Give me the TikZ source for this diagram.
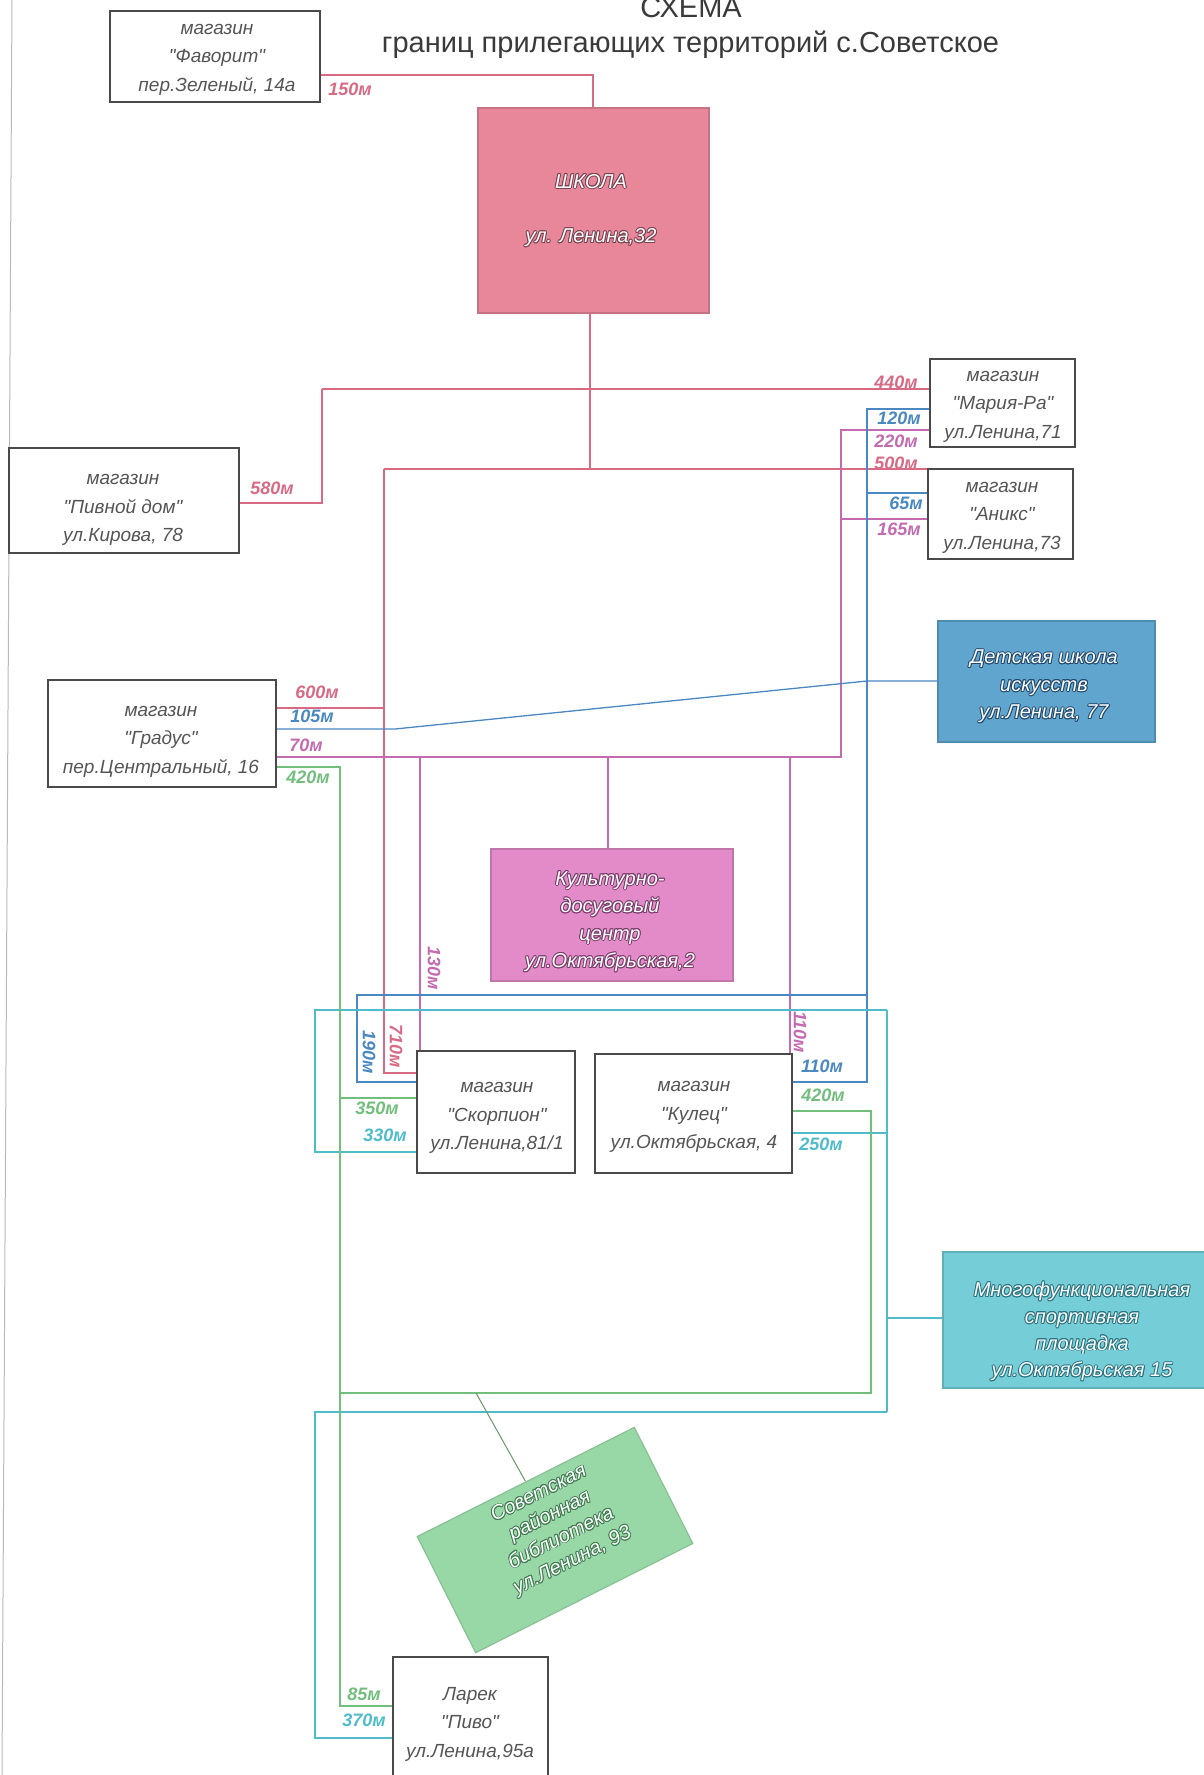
\documentclass[tikz,border=0pt]{standalone}
\usepackage{fontspec}
\setmainfont{Liberation Sans}
\newfontfamily\plainsans{Liberation Sans}
\usepackage{contour}
\contourlength{0.9pt}
\contournumber{12}
\usetikzlibrary{backgrounds}

\newcommand{\ct}[2]{\contour{#1}{#2}}

\definecolor{cRed}{HTML}{D96A83}
\definecolor{cMag}{HTML}{C46AB0}
\definecolor{cBlue}{HTML}{4A88C2}
\definecolor{cCyan}{HTML}{4FBCCB}
\definecolor{cGreen}{HTML}{72BE7C}
\definecolor{boxline}{HTML}{4A4A4A}
\definecolor{boxtext}{HTML}{555555}
\definecolor{schoolFill}{HTML}{E9879A}
\definecolor{kdcFill}{HTML}{E38BC8}
\definecolor{artFill}{HTML}{5FA5CE}
\definecolor{sportFill}{HTML}{74CDD7}
\definecolor{libFill}{HTML}{98D7A6}
\definecolor{titlegray}{HTML}{3A3A3A}
\definecolor{schoolInk}{HTML}{7A4452}
\definecolor{kdcInk}{HTML}{7A3E6C}
\definecolor{artInk}{HTML}{224A70}
\definecolor{sportInk}{HTML}{2A7480}
\definecolor{libInk}{HTML}{417C52}

\tikzset{
 shopbox/.style={draw=boxline, line width=1.4pt, fill=white, inner sep=0pt},
 fillbox/.style={line width=1.2pt, inner sep=0pt},
 shoptext/.style={font=\plainsans\fontsize{19}{28.5}\selectfont\itshape, text=boxtext, align=center, inner sep=0pt},
 filltext/.style={font=\plainsans\fontsize{20}{27.5}\selectfont\itshape, text=white, align=center, inner sep=0pt},
 distlbl/.style={font=\fontsize{18}{18}\selectfont\bfseries\itshape, inner sep=0pt},
 link/.style={line width=1.3pt},
}

\begin{document}
\begin{tikzpicture}[x=1pt,y=-1pt]
\useasboundingbox (0,0) rectangle (1203,1775);

% ---- title
\node[anchor=base, font=\fontsize{29}{29}\selectfont, text=titlegray, inner sep=0pt] (title1) at (691,17) {СХЕМА};
\node[anchor=base, font=\fontsize{29}{29}\selectfont, text=titlegray, inner sep=0pt] (title2) at (690.5,52) {границ прилегающих территорий с.Советское};

% ---- shop boxes
\node[shopbox, minimum width=210pt, minimum height=91pt] (fav) at (215,56.5) {};
\node[shoptext] (favT) at (217,59.5) {магазин\\"Фаворит"\\пер.Зеленый, 14а};

\node[shopbox, minimum width=145pt, minimum height=88pt] (mar) at (1002.5,403) {};
\node[shoptext] (marT) at (1003,406.5) {магазин\\"Мария-Ра"\\ул.Ленина,71};

\node[shopbox, minimum width=145pt, minimum height=90pt] (ani) at (1000.5,514) {};
\node[shoptext] (aniT) at (1002,517.5) {магазин\\"Аникс"\\ул.Ленина,73};

\node[shopbox, minimum width=230pt, minimum height=105pt] (piv) at (124,500.5) {};
\node[shoptext] (pivT) at (123,510) {магазин\\"Пивной дом"\\ул.Кирова, 78};

\node[shopbox, minimum width=228pt, minimum height=107pt] (gra) at (162,733.5) {};
\node[shoptext] (graT) at (161,741.5) {магазин\\"Градус"\\пер.Центральный, 16};

\node[shopbox, minimum width=158pt, minimum height=122pt] (sco) at (496,1112) {};
\node[shoptext] (scoT) at (497,1118) {магазин\\"Скорпион"\\ул.Ленина,81/1};

\node[shopbox, minimum width=197pt, minimum height=119pt] (kul) at (693.5,1113.5) {};
\node[shoptext] (kulT) at (694,1117) {магазин\\"Кулец"\\ул.Октябрьская, 4};

\node[shopbox, minimum width=155pt, minimum height=127pt] (lar) at (470.5,1720.5) {};
\node[shoptext] (larT) at (470,1724) {Ларек\\"Пиво"\\ул.Ленина,95а};

% ---- filled boxes
\node[fillbox, draw=schoolFill!85!black, fill=schoolFill, minimum width=231pt, minimum height=205pt] (school) at (593.5,210.5) {};
\node[filltext] (schoolT) at (591,211) {\ct{schoolInk}{ШКОЛА}\\[27pt]\ct{schoolInk}{ул. Ленина,32}};

\node[fillbox, draw=kdcFill!85!black, fill=kdcFill, minimum width=242pt, minimum height=132pt] (kdc) at (612,915) {};
\node[filltext] (kdcT) at (610,922) {\ct{kdcInk}{Культурно-}\\\ct{kdcInk}{досуговый}\\\ct{kdcInk}{центр}\\\ct{kdcInk}{ул.Октябрьская,2}};

\node[fillbox, draw=artFill!85!black, fill=artFill, minimum width=217pt, minimum height=121pt] (art) at (1046.5,681.5) {};
\node[filltext] (artT) at (1044,687) {\ct{artInk}{Детская школа}\\\ct{artInk}{искусств}\\\ct{artInk}{ул.Ленина, 77}};

\node[fillbox, draw=sportFill!85!black, fill=sportFill, minimum width=272pt, minimum height=136pt] (sport) at (1079,1320) {};
\node[filltext, font=\plainsans\fontsize{20}{26.7}\selectfont\itshape] (sportT) at (1082,1332) {\ct{sportInk}{Многофункциональная}\\\ct{sportInk}{спортивная}\\\ct{sportInk}{площадка}\\\ct{sportInk}{ул.Октябрьская 15}};

\node[fillbox, draw=libFill!90!black, fill=libFill, minimum width=243pt, minimum height=130pt, rotate=26.7] (lib) at (555,1540) {};
\node[filltext, rotate=26.7, font=\plainsans\fontsize{20}{25}\selectfont\itshape] (libT) at (556,1528) {\ct{libInk}{Советская}\\\ct{libInk}{районная}\\\ct{libInk}{библиотека}\\\ct{libInk}{ул.Ленина, 93}};

% ---- junction coordinates
\coordinate (r1) at (593,75);
\coordinate (r3) at (590,469);
\coordinate (r4) at (322,389);
\coordinate (r5) at (322,503);
\coordinate (r6) at (384,469);
\coordinate (r7) at (384,1073);
\coordinate (r8) at (384,708);

\coordinate (m1) at (841,757);
\coordinate (m2) at (841,430);
\coordinate (m3) at (841,519);
\coordinate (m4) at (608,757);
\coordinate (m5) at (420,757);
\coordinate (m6) at (790,757);

\coordinate (b1) at (395,729);
\coordinate (b2) at (867,681);
\coordinate (b3) at (867,409);
\coordinate (b4) at (867,1082);
\coordinate (b5) at (867,493);
\coordinate (b6) at (867,995);
\coordinate (b7) at (357,995);
\coordinate (b8) at (357,1082);

\coordinate (c1) at (887,1010);
\coordinate (c2) at (887,1412);
\coordinate (c3) at (315,1010);
\coordinate (c4) at (315,1152);
\coordinate (c5) at (887,1133);
\coordinate (c6) at (887,1318);
\coordinate (c7) at (315,1412);
\coordinate (c8) at (315,1738);

\coordinate (g1) at (340,767);
\coordinate (g2) at (340,1706);
\coordinate (g3) at (340,1098);
\coordinate (g4) at (340,1393);
\coordinate (g5) at (871,1393);
\coordinate (g6) at (871,1111);
\coordinate (libA) at (476,1393);

\begin{scope}[on background layer]
\fill[white] (0,0) rectangle (1203,1775);
\draw[gray!55, line width=1pt] (12,0) -- (2,1775);

% red
\draw[link, cRed] (fav.east |- r1) -- (r1) -- (school.north -| r1);
\draw[link, cRed] (school.south -| r3) -- (r3);
\draw[link, cRed] (r4) -- (mar.west |- r4);
\draw[link, cRed] (r4) -- (r5) -- (piv.east |- r5);
\draw[link, cRed] (r6) -- (ani.west |- r6);
\draw[link, cRed] (r6) -- (r7) -- (sco.west |- r7);
\draw[link, cRed] (gra.east |- r8) -- (r8);

% magenta
\draw[link, cMag] (gra.east |- m1) -- (m1) -- (m2) -- (mar.west |- m2);
\draw[link, cMag] (m3) -- (ani.west |- m3);
\draw[link, cMag] (m4) -- (kdc.north -| m4);
\draw[link, cMag] (m5) -- (sco.north -| m5);
\draw[link, cMag] (m6) -- (kul.north -| m6);

% blue
\draw[link, cBlue] (gra.east |- b1) -- (b1) -- (b2) -- (art.west |- b2);
\draw[link, cBlue] (mar.west |- b3) -- (b3) -- (b4) -- (kul.east |- b4);
\draw[link, cBlue] (b5) -- (ani.west |- b5);
\draw[link, cBlue] (b6) -- (b7) -- (b8) -- (sco.west |- b8);

% cyan
\draw[link, cCyan] (c1) -- (c2);
\draw[link, cCyan] (c1) -- (c3) -- (c4) -- (sco.west |- c4);
\draw[link, cCyan] (kul.east |- c5) -- (c5);
\draw[link, cCyan] (c6) -- (sport.west |- c6);
\draw[link, cCyan] (c2) -- (c7) -- (c8) -- (lar.west |- c8);

% green
\draw[link, cGreen] (gra.east |- g1) -- (g1) -- (g2) -- (lar.west |- g2);
\draw[link, cGreen] (g3) -- (sco.west |- g3);
\draw[link, cGreen] (g4) -- (g5) -- (g6) -- (kul.east |- g6);
\draw[line width=1pt, gray!80!green] (libA) -- (lib.north);
\end{scope}

% ---- distance labels
\node[distlbl, text=cRed] (l150) at (350,89) {150м};
\node[distlbl, text=cRed] (l440) at (896,382) {440м};
\node[distlbl, text=cRed] (l580) at (272,488) {580м};
\node[distlbl, text=cRed] (l500) at (896,463) {500м};
\node[distlbl, text=cRed] (l600) at (317,692) {600м};
\node[distlbl, text=cRed, rotate=-90] (l710) at (396,1046) {710м};

\node[distlbl, text=cMag] (l220) at (896,441) {220м};
\node[distlbl, text=cMag] (l165) at (899,529) {165м};
\node[distlbl, text=cMag] (l70) at (306,745) {70м};
\node[distlbl, text=cMag, rotate=-90] (l130) at (434,968) {130м};
\node[distlbl, text=cMag, rotate=-90] (l110a) at (800,1032) {110м};

\node[distlbl, text=cBlue] (l120) at (899,418) {120м};
\node[distlbl, text=cBlue] (l65) at (906,503) {65м};
\node[distlbl, text=cBlue] (l105) at (312,716) {105м};
\node[distlbl, text=cBlue] (l110b) at (822,1066) {110м};
\node[distlbl, text=cBlue, rotate=-90] (l190) at (369,1052) {190м};

\node[distlbl, text=cCyan] (l330) at (385,1135) {330м};
\node[distlbl, text=cCyan] (l250) at (821,1144) {250м};
\node[distlbl, text=cCyan] (l370) at (364,1720) {370м};

\node[distlbl, text=cGreen] (l420a) at (308,777) {420м};
\node[distlbl, text=cGreen] (l350) at (377,1108) {350м};
\node[distlbl, text=cGreen] (l420b) at (823,1095) {420м};
\node[distlbl, text=cGreen] (l85) at (364,1694) {85м};
\end{tikzpicture}
\end{document}
